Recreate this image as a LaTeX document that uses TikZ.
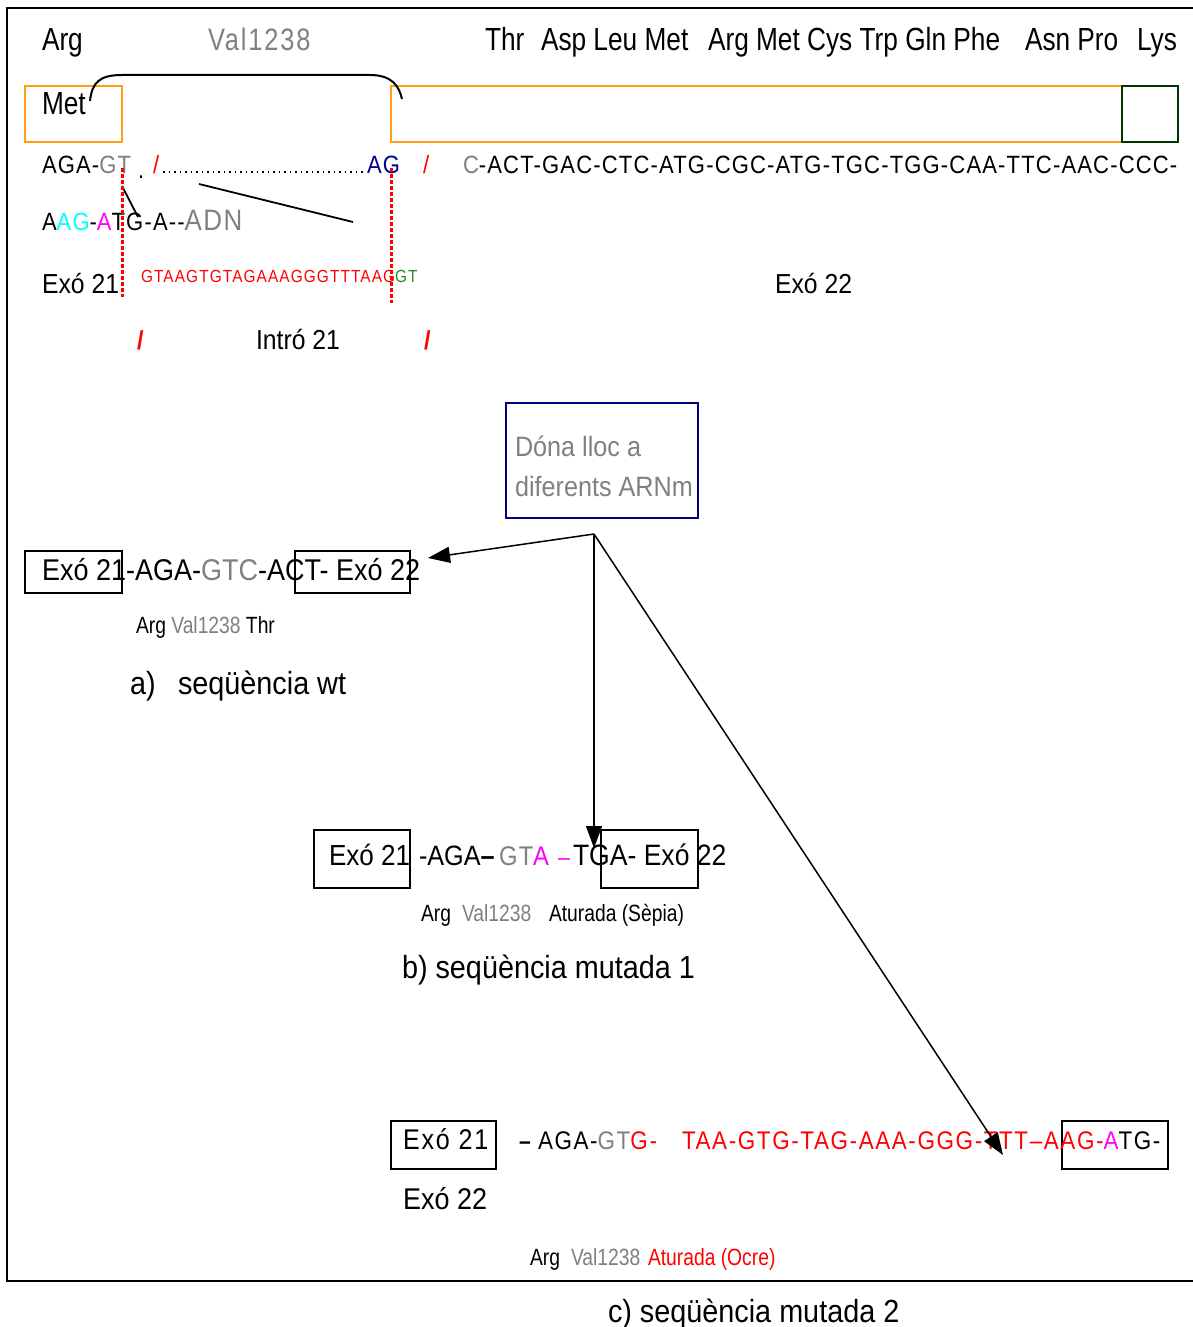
\documentclass[tikz,border=0pt]{standalone}
\usepackage{fontspec}
\setmainfont{Liberation Sans}
\newfontfamily\fN[FakeStretch=0.82]{Liberation Sans}
\newfontfamily\fNS[FakeStretch=0.82,LetterSpace=6]{Liberation Sans}
\newfontfamily\fA[FakeStretch=0.9]{Liberation Sans}
\newfontfamily\fS[FakeStretch=0.88,LetterSpace=4.7]{Liberation Sans}
\newfontfamily\fT[FakeStretch=0.88,LetterSpace=6.3]{Liberation Sans}
\usetikzlibrary{arrows.meta}
\newcommand\sz[1]{\fontsize{#1}{#1}\selectfont}
\definecolor{seqgray}{RGB}{128,128,128}
\definecolor{exonorange}{RGB}{255,160,20}
\definecolor{lysgreen}{RGB}{0,51,0}
\definecolor{boxnavy}{RGB}{0,0,128}
\definecolor{agnavy}{RGB}{0,0,150}
\definecolor{gtgreen}{RGB}{34,139,34}
\definecolor{cyanA}{RGB}{0,255,255}
\definecolor{magA}{RGB}{255,0,255}
\definecolor{pured}{RGB}{255,0,0}
\begin{document}
\begin{tikzpicture}[x=1pt,y=-1pt,
  t/.style={inner sep=0pt,outer sep=0pt,anchor=base west},
  aa/.style={t,font=\fN\sz{32}},
  lbl/.style={t,font=\fN\sz{23.5}},
  seqtxt/.style={t,font=\fS\sz{25}},
  cseq/.style={t,font=\fT\sz{25.5}},
  exobox/.style={draw=black,line width=1.5pt},
  orangebox/.style={draw=exonorange,line width=2pt},
  splice/.style={draw=pured,line width=3pt,dash pattern=on 3.5pt off 2.5pt},
  leader/.style={line width=1.7pt,dash pattern=on 1.7pt off 3.8pt},
  arr/.style={line width=1.5pt,-{Triangle[length=22pt,width=16pt]}},
  title/.style={t,font=\fA\sz{32}}]
\useasboundingbox (0,0) rectangle (1193,1327);
% outer frame, open on the right
\draw[line width=2pt] (1193,8) -- (7,8) -- (7,1281) -- (1193,1281);

% amino acids above the exons
\node[aa] (argT) at (42,51) {Arg};
\node[t,font=\fNS\sz{31},text=seqgray] (valT) at (208,51) {Val1238};
\node[aa] (aa1) at (485,51) {Thr};
\node[aa] (aa2) at (541,51) {Asp Leu Met};
\node[aa] (aa3) at (708,51) {Arg Met Cys Trp Gln Phe};
\node[aa] (aa4) at (1025,51) {Asn Pro};
\node[aa] (aa5) at (1137,51) {Lys};

% exon boxes
\draw[orangebox] (25,86) rectangle (122,142);
\draw[orangebox] (391,86) rectangle (1122,142);
\draw[draw=lysgreen,line width=2.2pt] (1122,86) rectangle (1178,142);
\node[aa] (met) at (42,115) {Met};
% splicing bracket
\coordinate (brL) at (90,101);
\coordinate (brR) at (402,99);
\draw[line width=2pt] (brL) .. controls (92,82) and (100,75) .. (122,75) -- (370,75) .. controls (392,75) and (399,86) .. (brR);

% genomic sequence
\node[seqtxt] (s1) at (42,173) {AGA-};
\node[seqtxt,text=seqgray] (s2) at (s1.base east) {GT};
\node[seqtxt] (dot) at (138,178) {.};
\node[seqtxt,text=pured] (sl1) at (153,173) {/};
\node[seqtxt,text=agnavy] (ag) at (367,173) {AG};
\draw[leader] ([shift={(4,-1)}]sl1.base east) -- ([shift={(-1,-1)}]ag.base west);
\node[seqtxt,text=pured] (sl2) at (423,173) {/};
\node[seqtxt,text=seqgray] (c1) at (463,173) {C};
\node[seqtxt] (s3) at (c1.base east) {-ACT-GAC-CTC-ATG-CGC-ATG-TGC-TGG-CAA-TTC-AAC-CCC-};

\node[seqtxt] (s4) at (42,230) {A\textcolor{cyanA}{AG}-\textcolor{magA}{A}TG-A-{}-};
\node[t,font=\fS\sz{29.5},text=seqgray] (adn) at (s4.base east) {ADN};

% pointer lines to the DNA row
\coordinate (p1a) at (122,186);
\coordinate (p1b) at (138,217);
\coordinate (p2a) at (199,184);
\coordinate (p2b) at (353,222);
\draw[line width=1.8pt] (p1a) -- (p1b);
\draw[line width=1.8pt] (p2a) -- (p2b);

% splice sites
\coordinate (d1a) at (122,168);
\coordinate (d1b) at (122,297);
\coordinate (d2a) at (391,168);
\coordinate (d2b) at (391,303);
\draw[splice] (d1a) -- (d1b);
\draw[splice] (d2a) -- (d2b);

\node[t,font=\fA\sz{27.5}] (exo21) at (42,293) {Exó 21};
\node[t,font=\fT\sz{17.5},text=pured] (intseq) at (141,282) {GTAAGTGTAGAAAGGGTTTAAG};
\node[t,font=\fT\sz{17.5},text=gtgreen] (gt2) at (intseq.base east) {GT};
\node[t,font=\fA\sz{27.5}] (exo22) at (775,293) {Exó 22};

\node[t,font=\fA\bfseries\sz{26},text=pured] (sl3) at (137,349) {/};
\node[t,font=\fA\sz{27.5}] (intro) at (256,349) {Intró 21};
\node[t,font=\fA\bfseries\sz{26},text=pured] (sl4) at (424,349) {/};

% note box
\node[draw=boxnavy,line width=2pt,minimum width=192pt,minimum height=115pt,inner sep=0pt] (note) at (602,460.5) {};
\node[t,font=\fA\sz{28},text=seqgray] (note1) at (515,456) {Dóna lloc a};
\node[t,font=\fA\sz{28},text=seqgray] (note2) at (515,496) {diferents ARNm};
\coordinate (hub) at (594,534);

% a) wild type
\draw[exobox] (25,551) rectangle (122,593);
\draw[exobox] (295,551) rectangle (410,593);
\node[t,font=\fA\sz{30}] (wt) at (42,580) {Exó 21-AGA-\textcolor{seqgray}{GTC}-ACT- Exó 22};
\node[lbl] (wtl) at (136,633) {Arg \textcolor{seqgray}{Val1238} Thr};
\node[title] (ta) at (130,694) {a)};
\node[title] (tat) at (178,694) {seqüència wt};

% b) mutant 1
\draw[exobox] (314,830) rectangle (410,888);
\draw[exobox] (601,830) rectangle (698,888);
\node[t,font=\fA\sz{29}] (b1) at (329,865) {Exó 21};
\node[t,font=\fA\sz{28}] (b2) at (419,865) {-AGA};
\node[t,font=\fA\bfseries\sz{28}] (b3) at (b2.base east) {–};
\node[t,font=\fS\sz{27},text=seqgray] (b4) at (499,865) {GT};
\node[t,font=\fS\sz{27},text=magA] (b5) at (533,865) {A};
\node[t,font=\fA\sz{24},text=magA] (b6) at (558,865) {–};
\node[t,font=\fA\sz{29.5}] (b7) at (573,865) {TGA- Exó 22};
\node[lbl] (bl1) at (421,921) {Arg};
\node[lbl,text=seqgray] (bl2) at (462,921) {Val1238};
\node[lbl] (bl3) at (549,921) {Aturada (Sèpia)};
\node[title] (tb) at (402,978) {b) seqüència mutada 1};

% c) mutant 2
\draw[exobox] (391,1121) rectangle (496,1169);
\draw[exobox] (1062,1121) rectangle (1168,1169);
\node[t,font=\fT\sz{28.5}] (c1a) at (403,1149) {Exó 21};
\node[t,font=\fA\sz{30}] (c1b) at (403,1209) {Exó 22};
\node[t,font=\fS\bfseries\sz{24}] (c2) at (519,1149) {–};
\node[cseq] (c3) at (538,1149) {AGA-};
\node[cseq,text=seqgray] (c4) at (c3.base east) {GT};
\node[cseq,text=pured] (c5) at (c4.base east) {G-};
\node[cseq,text=pured] (c6) at (682,1149) {TAA-GTG-TAG-AAA-GGG-TTT–AAG-};
\node[cseq,text=magA] (c7) at (c6.base east) {A};
\node[cseq] (c8) at (c7.base east) {TG-};
\node[lbl] (cl1) at (530,1265) {Arg};
\node[lbl,text=seqgray] (cl2) at (571,1265) {Val1238};
\node[lbl,text=pured] (cl3) at (648,1265) {Aturada (Ocre)};
\node[title] (tc) at (608,1322) {c) seqüència mutada 2};

% arrows from the note to the three transcripts
\coordinate (ea) at (428,558);
\coordinate (eb) at (594,848);
\coordinate (ec) at (1003,1155);
\draw[arr] (hub) -- (ea);
\draw[arr] (hub) -- (eb);
\draw[arr] (hub) -- (ec);
\end{tikzpicture}
\end{document}
